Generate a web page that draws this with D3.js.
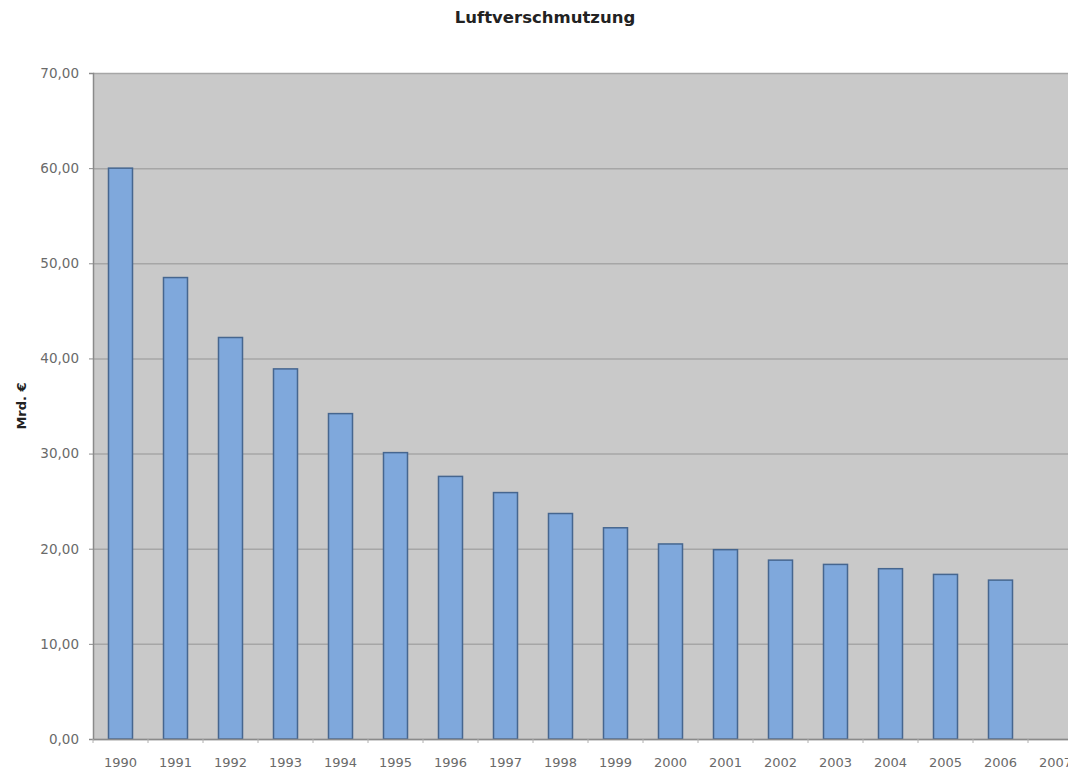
<!DOCTYPE html>
<html><head><meta charset="utf-8">
<script src="https://cdn.jsdelivr.net/npm/d3@7"></script>
<style>body{margin:0;background:#fff;overflow:hidden}svg{display:block}</style>
</head><body>
<svg id="c" width="1068" height="771"></svg>
<script>
const years = ["1990","1991","1992","1993","1994","1995","1996","1997","1998","1999","2000","2001","2002","2003","2004","2005","2006","2007"];
const values = [60.0,48.5,42.2,38.9,34.2,30.1,27.6,25.9,23.7,22.2,20.5,19.9,18.8,18.35,17.9,17.3,16.7,null];
const yTicks = [0,10,20,30,40,50,60,70];
const title = "Luftverschmutzung";
const yTitle = "Mrd. €";

(function(){
const svg = d3.select("#c");
const pL = 93, pR = 1083, pT = 73, pB = 739;
const x = d3.scaleBand().domain(years).range([pL, pR]).paddingInner(0.5636).paddingOuter(0.2818);
const y = d3.scaleLinear().domain([0,70]).range([pB, pT]);

svg.append("rect").attr("x", pL).attr("y", pT).attr("width", pR-pL).attr("height", pB-pT).attr("fill", "#c9c9c9");

svg.append("g").selectAll("line").data(yTicks).join("line")
  .attr("x1", pL).attr("x2", pR).attr("y1", d=>y(d)+0.5).attr("y2", d=>y(d)+0.5)
  .attr("stroke", "#a6a6a6").attr("stroke-width", 1.5);

const fmt = d => d3.format(".2f")(d).replace(".", ",");
const ya = svg.append("g").attr("transform", `translate(${pL},0)`)
  .call(d3.axisLeft(y).tickValues(yTicks).tickFormat(fmt).tickSize(4).tickPadding(10));
ya.select(".domain").attr("stroke", "#8a8a8a").attr("stroke-width", 1.5);
ya.selectAll(".tick line").attr("stroke", "#8a8a8a");
ya.selectAll("text").attr("fill", "#6a6a6a").style("font-family", "DejaVu Sans, Verdana, sans-serif").style("font-size", "13.5px");

svg.append("g").selectAll("rect").data(years.map((yr,i)=>({yr, v: values[i]})).filter(d=>d.v!=null)).join("rect")
  .attr("x", d=>x(d.yr)).attr("width", x.bandwidth())
  .attr("y", d=>y(d.v)).attr("height", d=>y(0)-y(d.v))
  .attr("fill", "#7fa8dc").attr("stroke", "#46668f").attr("stroke-width", 1.5);

const xa = svg.append("g").attr("transform", `translate(0,${pB})`)
  .call(d3.axisBottom(x).tickSize(0).tickPadding(19));
xa.select(".domain").attr("stroke", "#8a8a8a").attr("stroke-width", 1.5);
xa.selectAll("text").attr("fill", "#6a6a6a").style("font-family", "DejaVu Sans, Verdana, sans-serif").style("font-size", "13px");
svg.append("g").selectAll("line").data(years).join("line")
  .attr("x1", d=>x(d)-x.step()*x.paddingInner()/2).attr("x2", d=>x(d)-x.step()*x.paddingInner()/2)
  .attr("y1", pB).attr("y2", pB+4).attr("stroke", "#b0b0b0");

svg.append("text").attr("x", 545).attr("y", 23).attr("text-anchor", "middle")
  .style("font-family", "DejaVu Sans, Verdana, sans-serif").style("font-weight", "bold").style("font-size", "16.5px")
  .attr("fill", "#222").text(title);

svg.append("text").attr("transform", "translate(26,406) rotate(-90)").attr("text-anchor", "middle")
  .style("font-family", "DejaVu Sans, Verdana, sans-serif").style("font-weight", "bold").style("font-size", "13px")
  .attr("fill", "#222").text(yTitle);
})();
</script>
</body></html>
